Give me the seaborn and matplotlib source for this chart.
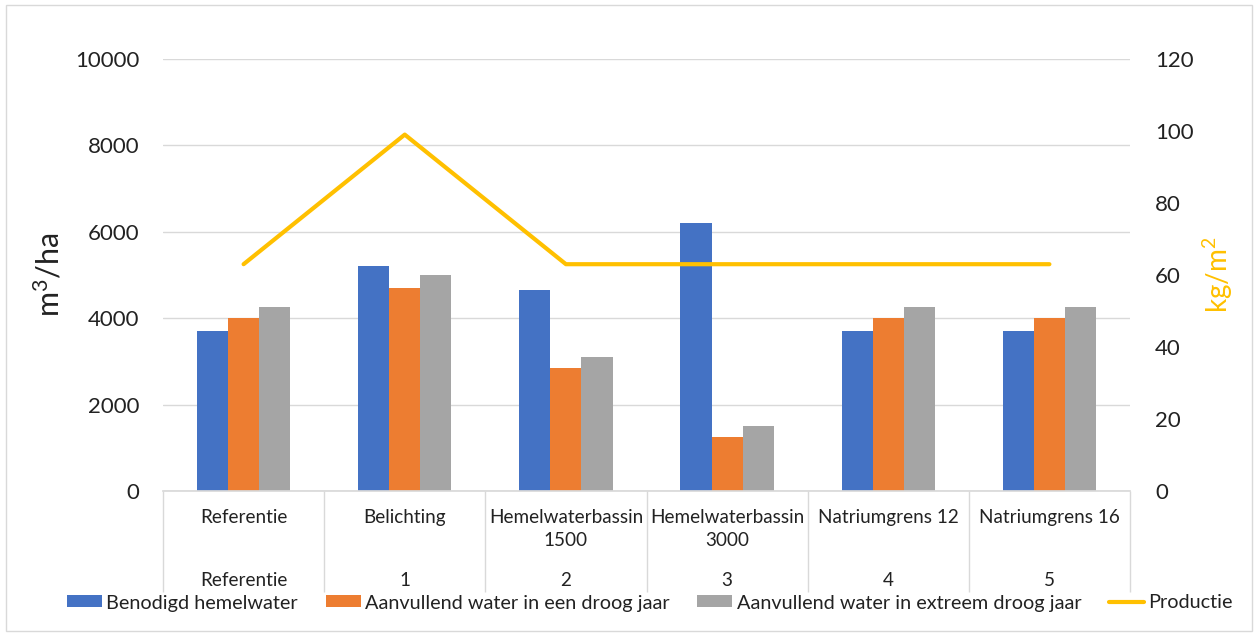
import matplotlib
matplotlib.use("Agg")
import matplotlib.pyplot as plt
from matplotlib.patches import Patch, Rectangle
from matplotlib.lines import Line2D
import seaborn as sns
import pandas as pd
import numpy as np

# Scenario data
categories = ["Referentie", "Belichting", "Hemelwaterbassin\n1500",
              "Hemelwaterbassin\n3000", "Natriumgrens 12", "Natriumgrens 16"]
scenario_ids = ["Referentie", "1", "2", "3", "4", "5"]
series_names = ["Benodigd hemelwater",
                "Aanvullend water in een droog jaar",
                "Aanvullend water in extreem droog jaar"]
benodigd = [3700, 5200, 4650, 6200, 3700, 3700]
droog = [4000, 4700, 2850, 1250, 4000, 4000]
extreem = [4250, 5000, 3100, 1500, 4250, 4250]
productie = [63, 99, 63, 63, 63, 63]
line_name = "Productie"

left_ticks = list(range(0, 10001, 2000))
right_ticks = list(range(0, 121, 20))

bar_colors = ["#4472C4", "#ED7D31", "#A5A5A5"]
line_color = "#FFC000"
grid_color = "#D9D9D9"
text_color = "#222222"

sns.set_theme(style="white")
plt.rcParams["font.family"] = ["Lato", "DejaVu Sans"]
plt.rcParams["mathtext.fontset"] = "custom"
plt.rcParams["mathtext.rm"] = "Lato"
plt.rcParams["mathtext.it"] = "Lato:italic"
plt.rcParams["text.color"] = text_color
plt.rcParams["xtick.color"] = text_color
plt.rcParams["ytick.color"] = text_color

df = pd.DataFrame({
    "scenario": categories * 3,
    "reeks": np.repeat(series_names, len(categories)),
    "waarde": benodigd + droog + extreem,
})

W, H = 1258, 636
left, right, top, bottom = 163, 1130, 59, 491
fig = plt.figure(figsize=(W / 100, H / 100), dpi=100)
ax = fig.add_axes([left / W, 1 - bottom / H, (right - left) / W, (bottom - top) / H])

sns.barplot(data=df, x="scenario", y="waarde", hue="reeks",
            order=categories, hue_order=series_names, palette=bar_colors,
            width=0.58, saturation=1, linewidth=0, errorbar=None,
            legend=False, ax=ax)

ax.set_ylim(0, 10000)
ax.set_yticks(left_ticks)
ax.set_xlabel("")
ax.set_ylabel("")
ax.grid(axis="y", color=grid_color, lw=1)
ax.set_axisbelow(True)
for s in ["left", "top", "right"]:
    ax.spines[s].set_visible(False)
ax.spines["bottom"].set_color(grid_color)
ax.tick_params(axis="y", length=0, pad=17, labelsize=16)

# category labels and separators of the two-level axis
ax.set_xticks(range(len(categories)))
ax.set_xticklabels(categories, fontsize=13.6, linespacing=1.42)
ax.tick_params(axis="x", which="major", length=0, pad=13)
ax.set_xticks(np.arange(-0.5, len(categories), 1), minor=True)
ax.tick_params(axis="x", which="minor", bottom=True, length=73, width=1,
               color=grid_color)
for i, s in enumerate(scenario_ids):
    ax.annotate(s, xy=(i, 0), xycoords=("data", "axes fraction"),
                xytext=(0, -90 * 0.72), textcoords="offset points",
                ha="center", va="center", fontsize=13.6, color=text_color)

# production on the secondary axis
ax2 = ax.twinx()
sns.lineplot(x=np.arange(len(productie)), y=productie, ax=ax2,
             color=line_color, lw=3, legend=False)
for ln in ax2.get_lines():
    ln.set_solid_capstyle("round")
ax2.set_ylim(0, 120)
ax2.set_yticks(right_ticks)
ax2.set_ylabel("")
ax2.grid(False)
for s in ax2.spines.values():
    s.set_visible(False)
ax2.tick_params(axis="y", length=0, pad=18, labelsize=16)
ax.set_xlim(-0.5, len(categories) - 0.5)

fig.text(49 / W, 1 - 275 / H, "m$^3$/ha", rotation=90, ha="center", va="center",
         fontsize=22, color=text_color)
fig.text(1218 / W, 1 - 275 / H, "kg/m$^2$", rotation=90, ha="center", va="center",
         fontsize=20, color=line_color)

handles = [Patch(facecolor=c, edgecolor="none") for c in bar_colors]
handles.append(Line2D([], [], color=line_color, lw=3))
fig.legend(handles, series_names + [line_name], loc="center",
           bbox_to_anchor=(650 / W, 1 - 603 / H), ncol=4, frameon=False,
           fontsize=14.3, handlelength=1.75, handleheight=0.55,
           handletextpad=0.22, columnspacing=1.4, borderpad=0)

fig.add_artist(Rectangle((6 / W, 5 / H), (1252 - 6) / W, (631 - 5) / H,
                         transform=fig.transFigure, fill=False,
                         edgecolor=grid_color, lw=1))

fig.savefig("out.png", dpi=100, facecolor="white")
